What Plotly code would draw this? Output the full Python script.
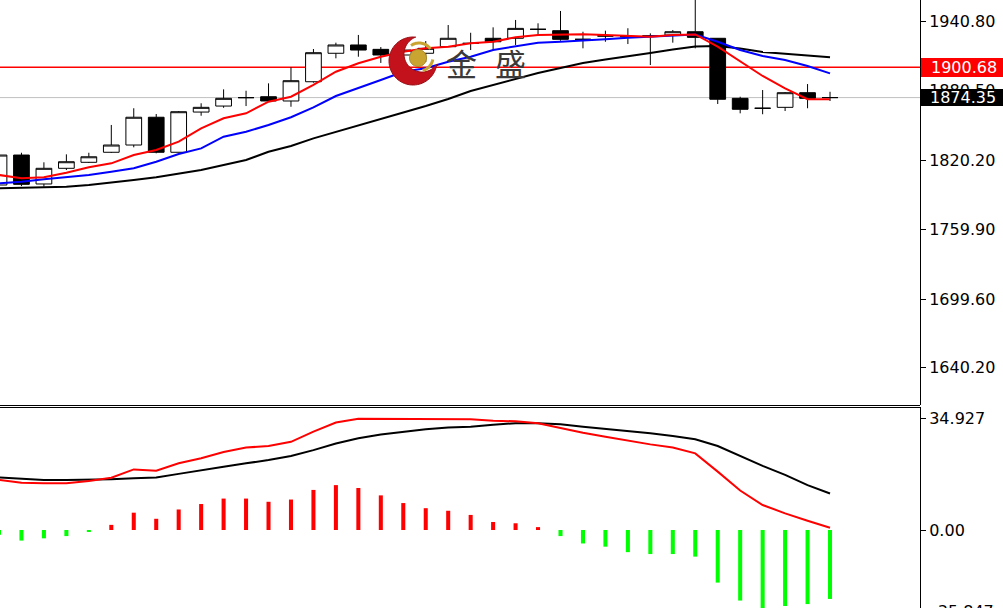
import math
import plotly.graph_objects as go

# ---------------- data ----------------
bar_index = list(range(38))

open_ = [1798.5, 1824.5, 1799.4, 1813.0, 1818.2, 1826.9, 1833.2, 1857.3, 1826.9, 1861.8,
         1867.0, 1874.3, 1875.1, 1871.4, 1888.1, 1912.8, 1920.0, 1916.2, 1911.3, 1912.8,
         1918.5, 1921.4, 1925.8, 1925.8, 1933.6, 1932.4, 1924.9, 1927.8, 1927.2, 1927.8,
         1928.6, 1931.5, 1925.8, 1873.7, 1865.1, 1865.9, 1878.6, 1874.35]
high = [1826.3, 1826.5, 1818.2, 1825.1, 1826.5, 1850.6, 1865.1, 1860.1, 1862.7, 1869.4,
        1881.5, 1880.3, 1886.7, 1900.6, 1916.5, 1922.0, 1928.7, 1918.2, 1920.0, 1923.4,
        1937.3, 1930.6, 1935.3, 1941.7, 1938.8, 1949.5, 1931.5, 1932.4, 1934.5, 1930.1,
        1933.0, 1963.4, 1926.0, 1875.1, 1880.9, 1879.2, 1886.1, 1879.4]
low = [1796.8, 1797.6, 1797.0, 1811.5, 1817.6, 1826.3, 1831.2, 1826.0, 1826.9, 1858.6,
       1865.5, 1867.0, 1871.0, 1866.4, 1887.3, 1908.4, 1909.8, 1904.4, 1907.0, 1905.2,
       1918.5, 1915.6, 1915.6, 1920.0, 1927.8, 1923.7, 1917.1, 1922.8, 1920.8, 1902.6,
       1922.0, 1917.1, 1868.8, 1860.7, 1859.9, 1862.7, 1865.1, 1871.4]
close = [1824.5, 1799.1, 1813.0, 1818.7, 1823.0, 1833.2, 1857.3, 1826.9, 1862.1, 1865.9,
         1873.7, 1874.3, 1871.4, 1889.0, 1913.3, 1920.0, 1915.6, 1911.3, 1915.6, 1917.1,
         1925.8, 1921.4, 1922.8, 1934.4, 1933.6, 1924.9, 1924.9, 1927.8, 1927.2, 1927.8,
         1931.5, 1926.6, 1872.9, 1864.2, 1865.1, 1878.6, 1873.7, 1874.35]

ma_red = [1807.2, 1804.3, 1805.2, 1809.2, 1813.9, 1817.3, 1824.5, 1828.9, 1836.1, 1847.7,
          1856.4, 1860.7, 1870.8, 1875.1, 1885.3, 1896.8, 1904.1, 1909.8, 1914.2, 1917.1,
          1918.5, 1921.4, 1922.8, 1926.7, 1928.6, 1929.1, 1929.3, 1928.6, 1927.8, 1927.2,
          1928.6, 1929.1, 1918.5, 1905.5, 1893.1, 1882.4, 1872.9, 1872.9]
ma_blue = [1800.0, 1801.4, 1803.5, 1805.2, 1807.2, 1810.0, 1813.0, 1818.7, 1825.4, 1830.3,
           1840.4, 1844.7, 1850.6, 1857.3, 1865.9, 1875.7, 1882.4, 1889.6, 1896.8, 1899.8,
           1905.5, 1909.8, 1915.6, 1919.1, 1922.0, 1922.8, 1923.7, 1924.9, 1926.3, 1927.2,
           1928.6, 1929.1, 1922.8, 1915.6, 1910.4, 1907.0, 1901.8, 1895.4]
ma_black = [1795.6, 1795.9, 1796.2, 1797.0, 1798.5, 1800.5, 1802.8, 1805.2, 1808.6, 1811.5,
            1815.9, 1820.2, 1827.4, 1832.3, 1839.0, 1844.7, 1850.6, 1856.2, 1861.4, 1867.0,
            1873.1, 1880.1, 1885.3, 1890.5, 1895.7, 1900.0, 1904.3, 1907.4, 1910.0, 1913.0,
            1916.1, 1918.7, 1919.1, 1916.9, 1913.9, 1912.2, 1910.9, 1909.3]

macd_hist = [-1.5, -3.3, -2.6, -1.9, -0.5, 1.6, 5.4, 3.5, 6.4, 8.1,
             9.8, 9.8, 8.8, 9.5, 12.5, 14.0, 13.1, 10.8, 8.4, 6.8,
             6.0, 4.7, 2.5, 2.1, 0.9, -1.9, -4.2, -5.2, -6.9, -7.5,
             -7.5, -8.3, -16.4, -22.0, -24.8, -23.7, -23.1, -21.5]
macd_dif = [15.6, 14.7, 14.6, 14.6, 15.3, 16.3, 18.9, 18.5, 20.8, 22.4,
            24.3, 25.7, 26.2, 27.5, 30.7, 33.5, 34.7, 34.7, 34.7, 34.7,
            34.7, 34.5, 34.1, 33.9, 33.3, 31.7, 30.3, 29.1, 27.8, 26.7,
            25.7, 23.9, 18.2, 12.3, 7.8, 5.2, 2.9, 0.7]
macd_dea = [16.4, 16.1, 15.6, 15.6, 15.6, 15.8, 16.1, 16.4, 17.5, 18.5,
            19.7, 20.8, 21.8, 23.1, 24.9, 27.0, 28.6, 29.8, 30.7, 31.4,
            32.0, 32.2, 32.8, 33.3, 33.3, 33.0, 32.2, 31.6, 30.9, 30.2,
            29.3, 28.3, 26.2, 23.1, 20.0, 17.2, 14.0, 11.4]

price_ticks = [1940.80, 1880.50, 1820.20, 1759.90, 1699.60, 1640.20]
price_tick_text = ["1940.80", "1880.50", "1820.20", "1759.90", "1699.60", "1640.20"]
macd_ticks = [34.927, 0.0]
macd_tick_text = ["34.927", "0.00"]
macd_min_label = "-35.847"
ref_level = 1900.68
last_price = 1874.35
brand_chars = ["金", "盛"]

# ---------------- layout geometry ----------------
W, H = 1003, 608
PLOT_W = 920            # plot area width in px (axis at x=920)
MAIN_BOTTOM = 405
SUB_TOP = 407
FS = 16


def px(x):
    return x / PLOT_W


def py(y):
    return 1 - y / H


FONT = "DejaVu Sans"

fig = go.Figure()

fig.add_trace(go.Candlestick(
    x=bar_index, open=open_, high=high, low=low, close=close,
    increasing=dict(line=dict(color="black", width=1), fillcolor="white"),
    decreasing=dict(line=dict(color="black", width=1), fillcolor="black"),
    whiskerwidth=0, xaxis="x", yaxis="y", showlegend=False, hoverinfo="skip",
))
for vals, col in [(ma_black, "black"), (ma_blue, "#0000ff"), (ma_red, "#ff0000")]:
    fig.add_trace(go.Scatter(x=bar_index, y=vals, mode="lines",
                             line=dict(color=col, width=2),
                             xaxis="x", yaxis="y", showlegend=False, hoverinfo="skip"))

fig.add_trace(go.Bar(
    x=bar_index, y=macd_hist, width=0.18,
    marker=dict(color=["#ff0000" if v >= 0 else "#00ff00" for v in macd_hist], line=dict(width=0)),
    xaxis="x2", yaxis="y2", showlegend=False, hoverinfo="skip",
))
fig.add_trace(go.Scatter(x=bar_index, y=macd_dea, mode="lines", line=dict(color="black", width=2),
                         xaxis="x2", yaxis="y2", showlegend=False, hoverinfo="skip"))
fig.add_trace(go.Scatter(x=bar_index, y=macd_dif, mode="lines", line=dict(color="#ff0000", width=2),
                         xaxis="x2", yaxis="y2", showlegend=False, hoverinfo="skip"))

# axis ranges from pixel calibration
px_per_price = 139.0 / 120.6
main_top_val = 1940.80 + 21 / px_per_price
main_bot_val = 1940.80 - (MAIN_BOTTOM - 21) / px_per_price
px_per_macd = (530 - 418) / 34.927
sub_top_val = (530 - SUB_TOP) / px_per_macd
sub_bot_val = (530 - H) / px_per_macd
bar_px = 22.46
x_min = 1 / bar_px
x_max = x_min + PLOT_W / bar_px

xcommon = dict(range=[x_min, x_max], showticklabels=False, showgrid=False, zeroline=False,
               showline=False, ticks="", fixedrange=True)
ycommon = dict(side="right", showgrid=False, zeroline=False, showline=True, linecolor="black",
               linewidth=1, ticks="outside", ticklen=5, tickcolor="black",
               tickfont=dict(family=FONT, size=FS, color="black"), fixedrange=True)

shapes = [
    dict(type="line", xref="paper", yref="y", x0=0, x1=1, y0=last_price, y1=last_price,
         line=dict(color="#c0c0c0", width=1), layer="below"),
    dict(type="line", xref="paper", yref="y", x0=0, x1=1, y0=ref_level, y1=ref_level,
         line=dict(color="#ff0000", width=1.6), layer="below"),
    dict(type="line", xref="paper", yref="paper", x0=0, x1=1,
         y0=py(MAIN_BOTTOM + 0.5), y1=py(MAIN_BOTTOM + 0.5), line=dict(color="black", width=1)),
    dict(type="line", xref="paper", yref="paper", x0=0, x1=1,
         y0=py(SUB_TOP + 0.5), y1=py(SUB_TOP + 0.5), line=dict(color="black", width=1)),
    # price label boxes
    dict(type="rect", xref="paper", yref="paper", x0=px(921), x1=px(1004), y0=py(77), y1=py(58),
         fillcolor="#ff0000", line=dict(width=0), layer="above"),
    dict(type="rect", xref="paper", yref="paper", x0=px(921), x1=px(1004), y0=py(106), y1=py(89),
         fillcolor="black", line=dict(width=0), layer="above"),
]


# ---- logo (decoration) ----
def circle_pts(cx, cy, r, a0, a1, n=60):
    return [(cx + r * math.cos(a0 + (a1 - a0) * k / n), cy + r * math.sin(a0 + (a1 - a0) * k / n))
            for k in range(n + 1)]


def to_path(pts, close_path=True):
    s = "M " + " L ".join(f"{px(x):.5f},{py(y):.5f}" for x, y in pts)
    return s + (" Z" if close_path else "")


ocx, ocy, R = 413, 61, 24
icx, icy, r = 422, 54, 18
d = math.hypot(icx - ocx, icy - ocy)
phi = math.atan2(icy - ocy, icx - ocx)
a = (R * R - r * r + d * d) / (2 * d)
alpha = math.acos(a / R)
outer = circle_pts(ocx, ocy, R, phi + alpha, phi + 2 * math.pi - alpha)
pe = outer[-1]
ps = outer[0]
te = math.atan2(pe[1] - icy, pe[0] - icx)
ts = math.atan2(ps[1] - icy, ps[0] - icx)
back = phi + math.pi
cands = []
for t_end in (ts, ts + 2 * math.pi, ts - 2 * math.pi):
    mid = (te + t_end) / 2
    cands.append((abs(math.atan2(math.sin(mid - back), math.cos(mid - back))) + 0.001 * abs(t_end - te), t_end))
t_best = min(cands)[1]
inner = circle_pts(icx, icy, r, te, t_best)
shapes.append(dict(type="path", xref="paper", yref="paper", path=to_path(outer + inner),
                   fillcolor="#c4121c", line=dict(color="#9a0c14", width=1), layer="above"))
shapes.append(dict(type="path", xref="paper", yref="paper",
                   path=to_path(circle_pts(418, 58, 8.5, 0, 2 * math.pi)),
                   fillcolor="#c9a431", line=dict(color="#a8842a", width=1), layer="above"))
shapes.append(dict(type="path", xref="paper", yref="paper",
                   path=to_path(circle_pts(419, 57, 14, math.radians(-125), math.radians(-35), 20), False),
                   line=dict(color="#c9a431", width=3), layer="above"))
shapes.append(dict(type="path", xref="paper", yref="paper",
                   path=to_path(circle_pts(419, 57, 14, math.radians(10), math.radians(75), 20), False),
                   line=dict(color="#c9a431", width=3), layer="above"))

annotations = [
    dict(xref="paper", yref="paper", x=px(929), y=py(67.5), xanchor="left", yanchor="middle",
         text=f"{ref_level:.2f}", showarrow=False, font=dict(family=FONT, size=FS, color="white")),
    dict(xref="paper", yref="paper", x=px(928), y=py(97.5), xanchor="left", yanchor="middle",
         text=f"{last_price:.2f}", showarrow=False, font=dict(family=FONT, size=FS, color="white")),
    dict(xref="paper", yref="paper", x=px(930), y=py(611), xanchor="left", yanchor="middle",
         text=macd_min_label, showarrow=False, font=dict(family=FONT, size=FS, color="black")),
    dict(xref="paper", yref="paper", x=px(461), y=py(62), xanchor="center", yanchor="middle",
         text=brand_chars[0], showarrow=False,
         font=dict(family="Noto Sans CJK SC", size=31, color="#3a3a3a")),
    dict(xref="paper", yref="paper", x=px(511), y=py(62), xanchor="center", yanchor="middle",
         text=brand_chars[1], showarrow=False,
         font=dict(family="Noto Sans CJK SC", size=31, color="#3a3a3a")),
]

fig.update_layout(
    width=W, height=H,
    margin=dict(l=0, r=W - PLOT_W, t=0, b=0),
    paper_bgcolor="white", plot_bgcolor="white",
    showlegend=False, boxgap=0.3, boxgroupgap=0,
    xaxis=dict(domain=[0, 1], anchor="y", rangeslider=dict(visible=False), **xcommon),
    xaxis2=dict(domain=[0, 1], anchor="y2", matches="x", **xcommon),
    yaxis=dict(domain=[py(MAIN_BOTTOM), 1], anchor="x", range=[main_bot_val, main_top_val],
               tickvals=price_ticks, ticktext=price_tick_text, **ycommon),
    yaxis2=dict(domain=[0, py(SUB_TOP)], anchor="x2", range=[sub_bot_val, sub_top_val],
                tickvals=macd_ticks, ticktext=macd_tick_text, **ycommon),
    shapes=shapes, annotations=annotations,
)

fig.write_html(
    "out.html",
    config={"displayModeBar": False},
    post_script="document.body.style.margin='0';document.body.style.overflow='hidden';",
)
